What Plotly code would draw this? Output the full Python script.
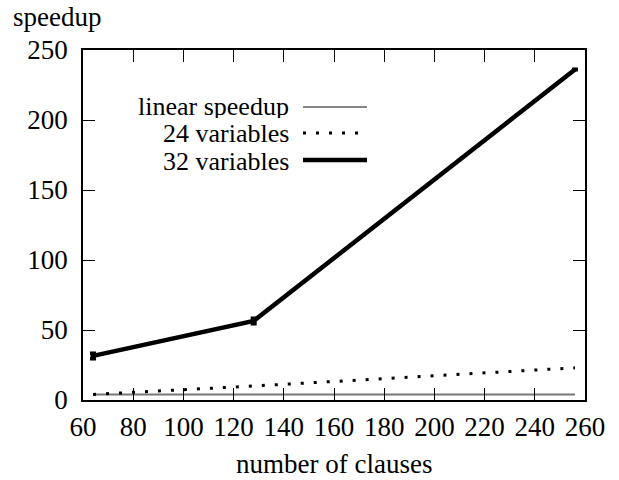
import plotly.graph_objects as go

clauses = [64, 128, 256]
linear_speedup = [4, 4, 4]
vars24 = [4, 10, 23]
vars32 = [31.5, 56.5, 236]
vars32_err = [1.8, 1.8, 0.0]

x_ticks = [60, 80, 100, 120, 140, 160, 180, 200, 220, 240, 260]
y_ticks = [0, 50, 100, 150, 200, 250]

FONT = "'Liberation Serif', 'Times New Roman', Times, serif"
FS = 27
W, H = 619, 480
L, R, T, B = 83, 34, 50, 80
pw, ph = W - L - R, H - T - B

fig = go.Figure()
fig.add_trace(go.Scatter(x=clauses, y=linear_speedup, mode="lines",
                         line=dict(color="#777777", width=2), name="linear speedup"))
fig.add_trace(go.Scatter(x=clauses, y=vars24, mode="lines",
                         line=dict(color="black", width=3, dash="3px,10px"), name="24 variables"))
fig.add_trace(go.Scatter(x=clauses, y=vars32, mode="lines",
                         line=dict(color="black", width=4.5), name="32 variables",
                         error_y=dict(type="data", array=vars32_err, color="black",
                                      thickness=4, width=3)))

def px(xs):
    return (xs - L) / pw

def py(ys):
    return 1 - (ys - T) / ph

legend_items = [("linear speedup", 105.5, 107, dict(color="#111111", width=1.2)),
                ("24 variables", 133, 133, dict(color="black", width=3, dash="3px,10px")),
                ("32 variables", 160.5, 160, dict(color="black", width=4.5))]
annotations = []
shapes = []
for label, ty, ly, ln in legend_items:
    annotations.append(dict(text=label, x=px(290), y=py(ty), xref="paper", yref="paper",
                            xanchor="right", yanchor="middle", showarrow=False,
                            height=24, valign="middle", borderpad=0,
                            font=dict(family=FONT, size=26, color="black")))
    shapes.append(dict(type="line", xref="paper", yref="paper",
                       x0=px(303), x1=px(367), y0=py(ly), y1=py(ly), line=ln))

annotations.append(dict(text="speedup", x=px(12), y=py(17), xref="paper", yref="paper",
                        xanchor="left", yanchor="middle", showarrow=False, borderpad=0,
                        font=dict(family=FONT, size=FS, color="black")))
annotations.append(dict(text="number of clauses", x=0.5, y=py(464), xref="paper", yref="paper",
                        xanchor="center", yanchor="middle", showarrow=False, borderpad=0,
                        font=dict(family=FONT, size=FS, color="black")))

fig.update_layout(
    width=W, height=H,
    margin=dict(l=L, r=R, t=T, b=B, pad=0),
    plot_bgcolor="white", paper_bgcolor="white",
    showlegend=False,
    font=dict(family=FONT, size=FS, color="black"),
    annotations=annotations, shapes=shapes,
    xaxis=dict(range=[60, 260], tickvals=x_ticks, ticks="inside", ticklen=12,
               tickcolor="black", tickwidth=1, showgrid=False, zeroline=False,
               showline=True, linecolor="black", linewidth=1.5, mirror="ticks",
               tickfont=dict(family=FONT, size=FS), ticklabelstandoff=2,
               automargin=False),
    yaxis=dict(range=[0, 250], tickvals=y_ticks, ticks="inside", ticklen=12,
               tickcolor="black", tickwidth=1, showgrid=False, zeroline=False,
               showline=True, linecolor="black", linewidth=1.5, mirror="ticks",
               tickfont=dict(family=FONT, size=FS), ticklabelstandoff=8,
               automargin=False),
)

fig.write_html("out.html", config={"displayModeBar": False},
               post_script="document.body.style.margin='0';")
